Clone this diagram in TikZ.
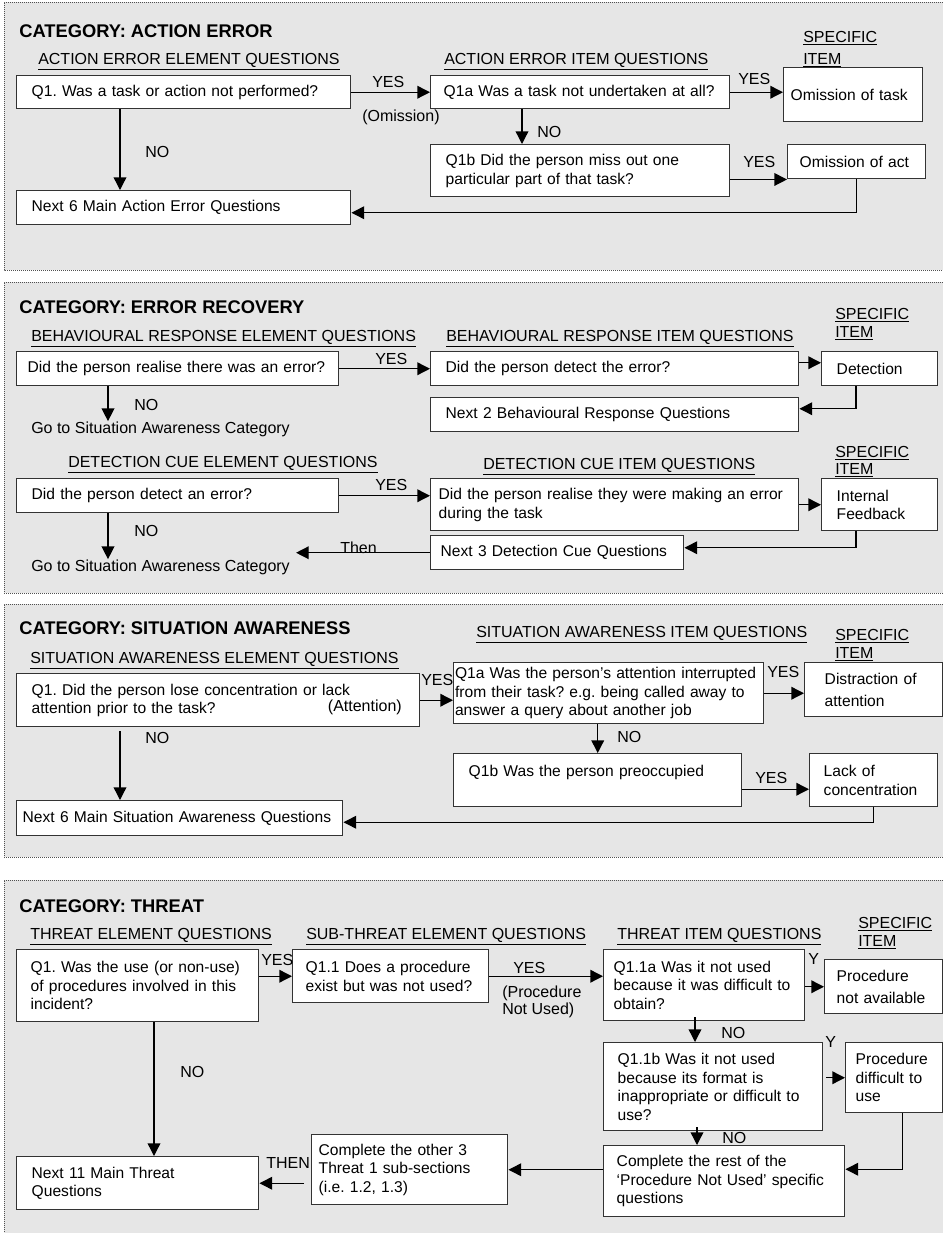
\documentclass[tikz,border=0pt]{standalone}
\usepackage{fontspec}
\setmainfont{Liberation Sans}
\usetikzlibrary{arrows.meta,calc}
\definecolor{panelgray}{RGB}{230,230,230}
\definecolor{boxline}{RGB}{51,51,51}
\definecolor{dotline}{RGB}{80,80,80}
\frenchspacing
\hyphenpenalty=10000
\exhyphenpenalty=10000

\begin{document}
\begin{tikzpicture}[x=0.75pt,y=-0.75pt,
  panelrim/.style={draw=dotline,line width=0.75pt,dash pattern=on 0.75pt off 0.75pt},
  box/.style={draw=boxline,fill=white,line width=1.1pt,anchor=north west,align=left,
    inner ysep=0pt,font=\fontsize{11.7}{13.9}\selectfont},
  txt/.style={inner sep=0pt,anchor=base west,font=\fontsize{12}{14}\selectfont},
  head/.style={txt},
  cat/.style={inner sep=0pt,anchor=base west,font=\fontsize{13.75}{16}\selectfont\bfseries},
  arr/.style={-{Triangle[length=9.5pt,width=9.5pt]},line width=1pt},
  link/.style={line width=1pt}]
  \useasboundingbox (0,0) rectangle (943,1233);
  %grey panels
  \fill[panelgray] (4,2) rectangle (943,270);
  \draw[panelrim] (943,2) -- (4,2) -- (4,270) -- (943,270);
  \fill[panelgray] (4,282) rectangle (943,593);
  \draw[panelrim] (943,282) -- (4,282) -- (4,593) -- (943,593);
  \fill[panelgray] (4,604) rectangle (943,857);
  \draw[panelrim] (943,604) -- (4,604) -- (4,857) -- (943,857);
  \fill[panelgray] (4,880) rectangle (943,1233);
  \draw[panelrim] (943,880) -- (4,880) -- (4,1233);

  %action error
  \node[cat] (cat1) at (19,37) {CATEGORY: ACTION ERROR};
  \node[head] (h1a) at (38,64) {\underline{ACTION ERROR ELEMENT QUESTIONS}};
  \node[head] (h1b) at (444,64) {\underline{ACTION ERROR ITEM QUESTIONS}};
  \node[head] (s1a) at (803,42) {\underline{SPECIFIC}};
  \node[head] (s1b) at (803,64) {\underline{ITEM}};
  \node[box,minimum height=24.75pt,text width=228pt,inner xsep=11.25pt] (q1ae) at (16,75)
    {Q1. Was a task or action not performed?};
  \node[box,minimum height=24.75pt,text width=204.75pt,inner xsep=9.75pt] (q1ai) at (430,75)
    {Q1a Was a task not undertaken at all?};
  \node[box,minimum height=40.5pt,text width=93.75pt,inner xsep=5.25pt] (omtask) at (783,67)
    {Omission of task};
  \node[box,minimum height=39pt,text width=201.75pt,inner xsep=11.25pt] (q1bai) at (430,144)
    {Q1b Did the person miss out one\\particular part of that task?};
  \node[box,minimum height=25.5pt,text width=85.5pt,inner xsep=9pt] (omact) at (787,144)
    {Omission of act};
  \node[box,minimum height=25.5pt,text width=228pt,inner xsep=11.25pt] (next1) at (16,190)
    {Next 6 Main Action Error Questions};
  %labels
  \node[txt] (yes1a) at (372,87) {YES};
  \node[txt] (omis) at (362,121) {(Omission)};
  \node[txt] (yes1b) at (738,84) {YES};
  \node[txt] (no1b) at (537,137) {NO};
  \node[txt] (yes1c) at (743,167) {YES};
  \node[txt] (no1a) at (145,157) {NO};
  %connectors
  \draw[arr] (q1ae.east) -- (q1ai.west);
  \draw[arr] (q1ai.east) -- (q1ai.east -| omtask.west);
  \draw[arr] ($(q1ai.south west)+(92,0)$) -- ($(q1bai.north west)+(92,0)$);
  \draw[arr] (q1bai.east |- omact.south west) -- (omact.south west);
  \draw[arr] (omact.south) |- ($(next1.east)+(0,5)$);
  \draw[arr] ($(q1ae.south west)+(104,0)$) -- ($(next1.north west)+(104,0)$);

  %error recovery
  \node[cat] (cat2) at (19,313) {CATEGORY: ERROR RECOVERY};
  \node[head] (h2a) at (31,341) {\underline{BEHAVIOURAL RESPONSE ELEMENT QUESTIONS}};
  \node[head] (h2b) at (446,341) {\underline{BEHAVIOURAL RESPONSE ITEM QUESTIONS}};
  \node[head] (s2a) at (835,319) {\underline{SPECIFIC}};
  \node[head] (s2b) at (835,337) {\underline{ITEM}};
  \node[box,minimum height=25.5pt,text width=225pt,inner xsep=8.25pt] (realise) at (16,351)
    {Did the person realise there was an error?};
  \node[box,minimum height=25.5pt,text width=253.5pt,inner xsep=11.25pt] (detecterr) at (430,351)
    {Did the person detect the error?};
  \node[box,minimum height=25.5pt,text width=64.5pt,inner xsep=11.25pt] (detection) at (821,351)
    {Detection};
  \node[box,minimum height=25.5pt,text width=253.5pt,inner xsep=11.25pt] (next2) at (430,397)
    {Next 2 Behavioural Response Questions};
  \node[txt] (yes2a) at (375,364) {YES};
  \node[txt] (no2a) at (134,410) {NO};
  \node[txt] (goto1) at (31,433) {Go to Situation Awareness Category};
  \node[head] (h2c) at (68,467) {\underline{DETECTION CUE ELEMENT QUESTIONS}};
  \node[head] (h2d) at (483,469) {\underline{DETECTION CUE ITEM QUESTIONS}};
  \node[head] (s2c) at (835,457) {\underline{SPECIFIC}};
  \node[head] (s2d) at (835,474) {\underline{ITEM}};
  \node[box,minimum height=25.5pt,text width=219pt,inner xsep=11.25pt] (detectan) at (16,478)
    {Did the person detect an error?};
  \node[box,minimum height=39pt,text width=264pt,inner xsep=6pt] (realisemk) at (430,478)
    {Did the person realise they were making an error\\during the task};
  \node[box,minimum height=39pt,text width=64.5pt,inner xsep=11.25pt] (intfb) at (821,478)
    {Internal\\Feedback};
  \node[box,minimum height=25.5pt,text width=174.75pt,inner xsep=7.5pt] (next3) at (430,535)
    {Next 3 Detection Cue Questions};
  \node[txt] (yes2b) at (375,490) {YES};
  \node[txt] (no2b) at (134,536) {NO};
  \node[txt] (then2) at (340,553) {Then};
  \node[txt] (goto2) at (31,571) {Go to Situation Awareness Category};
  %connectors
  \draw[arr] (realise.east) -- (detecterr.west);
  \draw[arr] ($(detecterr.east)+(0,-6)$) -- ($(detection.west)+(0,-6)$);
  \draw[arr] ($(detection.south west)+(35,0)$) |- ($(next2.east)+(0,-6)$);
  \coordinate (no1) at ($(realise.south west)+(92,0)$);
  \draw[arr] (no1) -- (no1 |- goto1.north);
  \draw[arr] (detectan.east) -- (detectan.east -| realisemk.west);
  \draw[arr] (realisemk.east) -- (intfb.west);
  \draw[arr] ($(intfb.south west)+(35,0)$) |- ($(next3.east)+(0,-5)$);
  \draw[arr] (next3.west) -- ($(next3.west -| goto2.east)+(6,0)$);
  \coordinate (no2) at ($(detectan.south west)+(92,0)$);
  \draw[arr] (no2) -- (no2 |- goto2.north);

  %situation awareness
  \node[cat] (cat3) at (19,634) {CATEGORY: SITUATION AWARENESS};
  \node[head] (h3a) at (30,663) {\underline{SITUATION AWARENESS ELEMENT QUESTIONS}};
  \node[head] (h3b) at (476,637) {\underline{SITUATION AWARENESS ITEM QUESTIONS}};
  \node[head] (s3a) at (835,640) {\underline{SPECIFIC}};
  \node[head] (s3b) at (835,658) {\underline{ITEM}};
  \node[box,minimum height=39.75pt,text width=279.75pt,inner xsep=11.25pt] (q1sa) at (16,673)
    {Q1. Did the person lose concentration or lack\\attention prior to the task?};
  \node[txt,anchor=base east] (attn) at (402,711) {(Attention)};
  \node[box,minimum height=45.75pt,text width=230.5pt,inner xsep=1pt] (q1asa) at (453,662)
    {Q1a Was the person’s attention interrupted\\from their task? e.g. being called away to\\answer a query about another job};
  \node[box,minimum height=40.5pt,text width=73.5pt,inner xsep=15pt] (distr) at (804,662)
    {Distraction of\\[2.5pt]attention};
  \node[box,minimum height=39.75pt,text width=193.5pt,inner xsep=11.25pt] (q1bsa) at (453,753)
    {Q1b Was the person preoccupied\\\mbox{}};
  \node[box,minimum height=39.75pt,text width=75pt,inner xsep=10.5pt] (lack) at (809,753)
    {Lack of\\concentration};
  \node[box,minimum height=26.25pt,text width=235.5pt,inner xsep=4.5pt] (next6sa) at (16,800)
    {Next 6 Main Situation Awareness Questions};
  \node[txt] (yes3a) at (421,685) {YES};
  \node[txt] (no3a) at (145,743) {NO};
  \node[txt] (yes3b) at (767,677) {YES};
  \node[txt] (no3b) at (617,742) {NO};
  \node[txt] (yes3c) at (755,783) {YES};
  %connectors
  \draw[arr] (q1sa.east) -- (q1sa.east -| q1asa.west);
  \draw[arr] (q1asa.east) -- (q1asa.east -| distr.west);
  \draw[arr] (q1bsa.north |- q1asa.south) -- (q1bsa.north);
  \draw[arr] ($(q1bsa.east)+(0,9)$) -- ($(lack.west)+(0,9)$);
  \draw[arr] (lack.south) |- ($(next6sa.east)+(0,4)$);
  \draw[arr] ($(q1sa.south west)+(104,4)$) -- ($(next6sa.north west)+(104,0)$);

  %threat
  \node[cat] (cat4) at (19,912) {CATEGORY: THREAT};
  \node[head] (h4a) at (30,939) {\underline{THREAT ELEMENT QUESTIONS}};
  \node[head] (h4b) at (306,939) {\underline{SUB-THREAT ELEMENT QUESTIONS}};
  \node[head] (h4c) at (617,939) {\underline{THREAT ITEM QUESTIONS}};
  \node[head] (s4a) at (858,928) {\underline{SPECIFIC}};
  \node[head] (s4b) at (858,946) {\underline{ITEM}};
  \node[box,minimum height=54pt,text width=160.5pt,inner xsep=10.5pt] (q1th) at (16,949)
    {Q1. Was the use (or non-use)\\of procedures involved in this\\incident?};
  \node[box,minimum height=39.75pt,text width=127.5pt,inner xsep=9.75pt] (q11) at (292,949)
    {Q1.1 Does a procedure\\exist but was not used?};
  \node[box,minimum height=53.25pt,text width=135.75pt,inner xsep=7.5pt] (q11a) at (603,949)
    {Q1.1a Was it not used\\because it was difficult to\\obtain?};
  \node[box,minimum height=40.5pt,text width=70.5pt,inner xsep=9pt] (procna) at (824,959)
    {Procedure\\[3pt]not available};
  \node[box,minimum height=66pt,text width=143.25pt,inner xsep=10.5pt] (q11b) at (603,1042)
    {Q1.1b Was it not used\\because its format is\\inappropriate or difficult to\\use?};
  \node[box,minimum height=52.5pt,text width=57.75pt,inner xsep=7.5pt] (procdu) at (845,1042)
    {Procedure\\difficult to\\use};
  \node[box,minimum height=53.25pt,text width=161.25pt,inner xsep=9.75pt] (rest) at (603,1145)
    {Complete the rest of the\\‘Procedure Not Used’ specific\\questions};
  \node[box,minimum height=52.5pt,text width=136.5pt,inner xsep=5.25pt] (other3) at (311,1134)
    {Complete the other 3\\Threat 1 sub-sections\\(i.e. 1.2, 1.3)};
  \node[box,minimum height=39.75pt,text width=159pt,inner xsep=11.25pt] (next11) at (16,1156)
    {Next 11 Main Threat\\Questions};
  \node[txt] (yes4a) at (261,965) {YES};
  \node[txt] (yes4b) at (513,973) {YES};
  \node[txt] (pnu1) at (502,997) {(Procedure};
  \node[txt] (pnu2) at (502,1014) {Not Used)};
  \node[txt] (y4a) at (808,964) {Y};
  \node[txt] (no4b) at (721,1038) {NO};
  \node[txt] (y4b) at (825,1047) {Y};
  \node[txt] (no4c) at (722,1143) {NO};
  \node[txt] (then4) at (266,1168) {THEN};
  \node[txt] (no4a) at (180,1077) {NO};
  %connectors
  \draw[arr] (q11.west -| q1th.east) -- (q11.west);
  \draw[arr] (q11.east) -- (q11.east -| q11a.west);
  \draw[arr] (procna.west -| q11a.east) -- (procna.west);
  \draw[arr] ($(q11a.south west)+(92,-4)$) -- ($(q11b.north west)+(92,0)$);
  \draw[arr] ($(procdu.west -| q11b.east)+(3,0)$) -- (procdu.west);
  \draw[arr] ($(procdu.south)+(8,0)$) |- ($(rest.east)+(0,-12)$);
  \draw[arr] ($(q11b.south west)+(94,-4)$) -- ($(rest.north west)+(94,0)$);
  \draw[arr] (other3.east -| rest.west) -- (other3.east);
  \draw[arr] ($(next11.east -| other3.west)+(-7,0)$) -- (next11.east);
  \draw[arr] ($(q1th.south west)+(138,0)$) -- ($(next11.north west)+(138,0)$);
\end{tikzpicture}
\end{document}
